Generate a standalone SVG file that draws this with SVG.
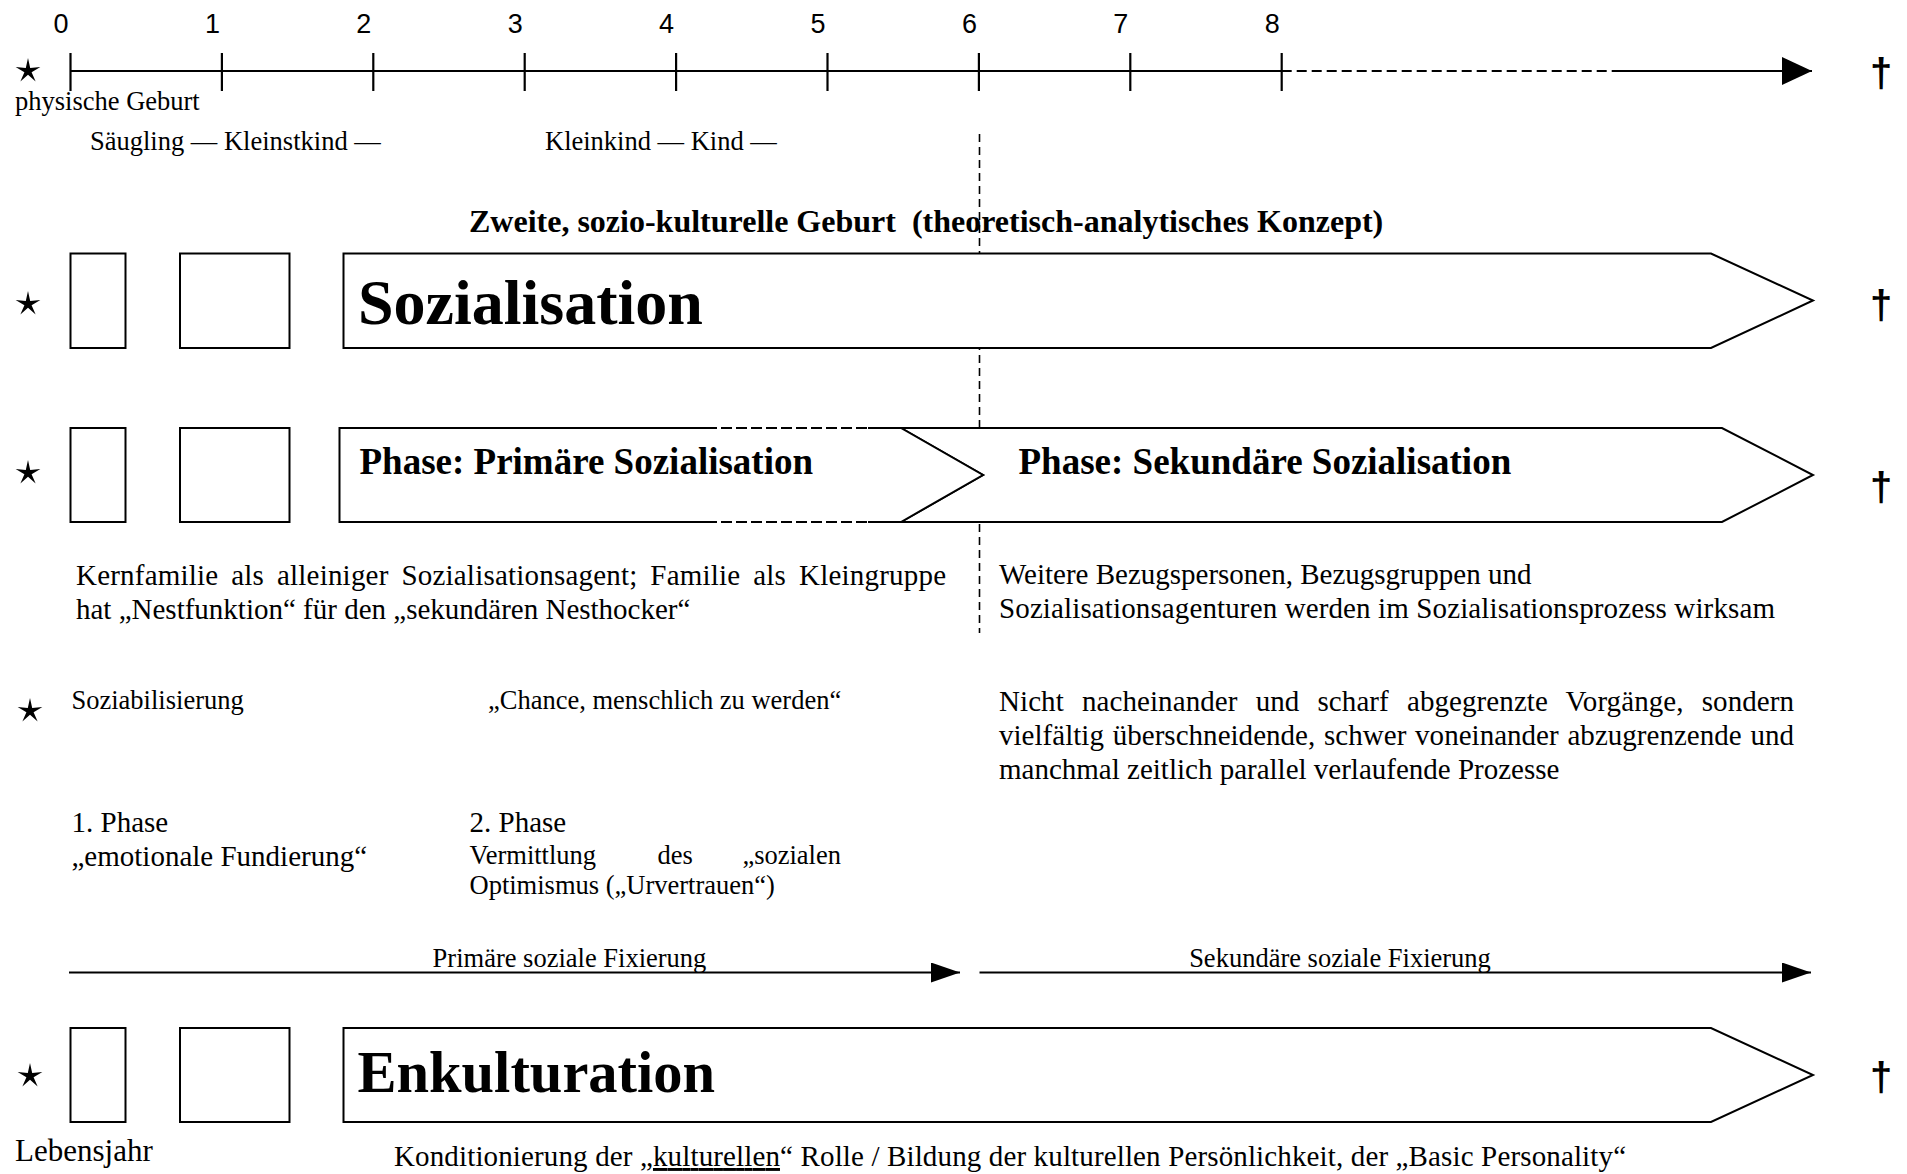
<svg xmlns="http://www.w3.org/2000/svg" xmlns:xlink="http://www.w3.org/1999/xlink" width="1907" height="1174" viewBox="0 0 1907 1174">
<style>
  .serif { font-family: "Liberation Serif", "Times New Roman", serif; fill: #000; }
  .sans { font-family: "Liberation Sans", Arial, sans-serif; fill: #000; }
  .bold { font-weight: bold; }
  .small { font-size: 26.5px; }
  .body { font-size: 29px; }
  .tick { font-size: 27px; text-anchor: middle; }
  .cross { font-family: "Liberation Sans", Arial, sans-serif; font-weight: bold; font-size: 40px; text-anchor: middle; fill: #000; }
  .box { fill: #fff; stroke: #000; stroke-width: 2; }
  .line { stroke: #000; stroke-width: 2.2; fill: none; }
  .dash { stroke: #000; stroke-width: 1.6; fill: none; stroke-dasharray: 8 5; }
  .whitedash { stroke: #fff; stroke-width: 3; fill: none; stroke-dasharray: 4 11; }
</style>
<defs>
  <path id="star" d="M0,-13 L2.2,-3.1 L12.36,-4.02 L3.6,1.2 L7.64,10.52 L0,3.8 L-7.64,10.52 L-3.6,1.2 L-12.36,-4.02 L-2.2,-3.1 Z" fill="#000"/>
  <marker id="arrow" viewBox="0 0 30 28" refX="30" refY="14" markerWidth="30" markerHeight="28" markerUnits="userSpaceOnUse" orient="auto">
    <path d="M0,0 L30,14 L0,28 Z" fill="#000"/>
  </marker>
  <marker id="arrowS" viewBox="0 0 29 20" refX="29" refY="10" markerWidth="29" markerHeight="20" markerUnits="userSpaceOnUse" orient="auto">
    <path d="M0,0 L29,10 L0,20 Z" fill="#000"/>
  </marker>
</defs>
<rect width="1907" height="1174" fill="#fff"/>

<!-- timeline labels -->
<g id="timeline-labels">
  <text class="sans tick" x="61" y="33">0</text>
  <text class="sans tick" x="212.4" y="33">1</text>
  <text class="sans tick" x="363.8" y="33">2</text>
  <text class="sans tick" x="515.2" y="33">3</text>
  <text class="sans tick" x="666.6" y="33">4</text>
  <text class="sans tick" x="818" y="33">5</text>
  <text class="sans tick" x="969.4" y="33">6</text>
  <text class="sans tick" x="1120.8" y="33">7</text>
  <text class="sans tick" x="1272.2" y="33">8</text>
  <text class="serif small" x="15" y="110">physische Geburt</text>
  <text class="serif small" x="90" y="150">Säugling — Kleinstkind —</text>
  <text class="serif small" x="545" y="150">Kleinkind — Kind —</text>
</g>

<g id="title">
  <text class="serif bold" font-size="32" x="469" y="232" xml:space="preserve">Zweite, sozio-kulturelle Geburt  (theoretisch-analytisches Konzept)</text>
</g>

<!-- connectors -->
<g id="connectors">
  <line class="dash" x1="979.5" y1="134" x2="979.5" y2="633"/>
  <line class="line" x1="70.5" y1="71" x2="1281.7" y2="71"/>
  <line class="line" x1="1281.7" y1="71" x2="1614" y2="71" stroke-dasharray="10 5"/>
  <line class="line" x1="1614" y1="71" x2="1812" y2="71" marker-end="url(#arrow)"/>
  <g class="line" stroke-width="1.8">
    <line x1="70.5" y1="53" x2="70.5" y2="91"/>
    <line x1="221.9" y1="53" x2="221.9" y2="91"/>
    <line x1="373.3" y1="53" x2="373.3" y2="91"/>
    <line x1="524.7" y1="53" x2="524.7" y2="91"/>
    <line x1="676.1" y1="53" x2="676.1" y2="91"/>
    <line x1="827.5" y1="53" x2="827.5" y2="91"/>
    <line x1="978.9" y1="53" x2="978.9" y2="91"/>
    <line x1="1130.3" y1="53" x2="1130.3" y2="91"/>
    <line x1="1281.7" y1="53" x2="1281.7" y2="91"/>
  </g>
  <line class="line" x1="69" y1="972.5" x2="960" y2="972.5" marker-end="url(#arrowS)"/>
  <line class="line" x1="979.5" y1="972.5" x2="1811" y2="972.5" marker-end="url(#arrowS)"/>
</g>

<!-- row symbols -->
<g id="symbols">
  <use xlink:href="#star" x="28" y="71"/>
  <use xlink:href="#star" x="28" y="304"/>
  <use xlink:href="#star" x="28" y="473"/>
  <use xlink:href="#star" x="30" y="711"/>
  <use xlink:href="#star" x="30" y="1076"/>
  <text class="cross" x="1881" y="87">†</text>
  <text class="cross" x="1881" y="319">†</text>
  <text class="cross" x="1881" y="501">†</text>
  <text class="cross" x="1881" y="1091">†</text>
</g>

<!-- row 1: Sozialisation -->
<g id="row1-year1"><rect class="box" x="70.5" y="253.5" width="55" height="94.5"/></g>
<g id="row1-year2"><rect class="box" x="180" y="253.5" width="109.5" height="94.5"/></g>
<g id="sozialisation">
  <polygon class="box" points="343.5,253.5 1711,253.5 1813,300.5 1711,348 343.5,348"/>
  <text class="serif bold" font-size="64" x="358" y="324">Sozialisation</text>
</g>

<!-- row 2: phases -->
<g id="row2-year1"><rect class="box" x="70.5" y="428" width="55" height="94"/></g>
<g id="row2-year2"><rect class="box" x="180" y="428" width="109.5" height="94"/></g>
<g id="phase-sekundaer">
  <polygon class="box" points="901,428 1722,428 1813,475 1722,522 901,522 983,475"/>
  <text class="serif bold" font-size="37" x="1018.5" y="474">Phase: Sekundäre Sozialisation</text>
</g>
<g id="phase-primaer">
  <polygon class="box" points="339.5,428 901,428 983,475 901,522 339.5,522"/>
  <line class="whitedash" x1="717" y1="428" x2="868" y2="428"/>
  <line class="whitedash" x1="717" y1="522" x2="868" y2="522"/>
  <text class="serif bold" font-size="37" x="359.5" y="474">Phase: Primäre Sozialisation</text>
</g>

<!-- descriptions -->
<g id="primaer-text">
  <text class="serif body" x="76" y="585" word-spacing="5.4" textLength="870" lengthAdjust="spacing">Kernfamilie als alleiniger Sozialisationsagent; Familie als Kleingruppe</text>
  <text class="serif body" x="76" y="619">hat „Nestfunktion“ für den „sekundären Nesthocker“</text>
</g>
<g id="sekundaer-text">
  <text class="serif body" x="999" y="584">Weitere Bezugspersonen, Bezugsgruppen und</text>
  <text class="serif body" x="999" y="618" textLength="776" lengthAdjust="spacing">Sozialisationsagenturen werden im Sozialisationsprozess wirksam</text>
</g>
<g id="soziabilisierung">
  <text class="serif small" x="71.5" y="709">Soziabilisierung</text>
  <text class="serif small" x="488" y="709">„Chance, menschlich zu werden“</text>
</g>
<g id="prozesse">
  <text class="serif body" x="999" y="711" word-spacing="10.8" textLength="795" lengthAdjust="spacing">Nicht nacheinander und scharf abgegrenzte Vorgänge, sondern</text>
  <text class="serif body" x="999" y="745" word-spacing="1.5" textLength="795" lengthAdjust="spacing">vielfältig überschneidende, schwer voneinander abzugrenzende und</text>
  <text class="serif body" x="999" y="779">manchmal zeitlich parallel verlaufende Prozesse</text>
</g>
<g id="phase1">
  <text class="serif body" x="71.5" y="832">1. Phase</text>
  <text class="serif body" x="71.5" y="866">„emotionale Fundierung“</text>
</g>
<g id="phase2">
  <text class="serif body" x="469.5" y="832">2. Phase</text>
  <text class="serif small" y="863.5"><tspan x="469.5">Vermittlung</tspan><tspan x="657.6">des</tspan><tspan x="742.4">„sozialen</tspan></text>
  <text class="serif small" x="469.5" y="894">Optimismus („Urvertrauen“)</text>
</g>
<g id="fixierung-labels">
  <text class="serif small" x="569.5" y="967" text-anchor="middle">Primäre soziale Fixierung</text>
  <text class="serif small" x="1340" y="967" text-anchor="middle">Sekundäre soziale Fixierung</text>
</g>

<!-- row 4: Enkulturation -->
<g id="row4-year1"><rect class="box" x="70.5" y="1028" width="55" height="94"/></g>
<g id="row4-year2"><rect class="box" x="180" y="1028" width="109.5" height="94"/></g>
<g id="enkulturation">
  <polygon class="box" points="343.5,1028 1711,1028 1813,1075 1711,1122 343.5,1122"/>
  <text class="serif bold" font-size="58.5" x="357.5" y="1092">Enkulturation</text>
</g>
<g id="bottom-text">
  <text class="serif" font-size="31" x="15" y="1161">Lebensjahr</text>
  <text class="serif body" x="394" y="1166" textLength="1232" lengthAdjust="spacing">Konditionierung der „<tspan text-decoration="underline">kulturellen</tspan>“ Rolle / Bildung der kulturellen Persönlichkeit, der „Basic Personality“</text>
</g>
</svg>
